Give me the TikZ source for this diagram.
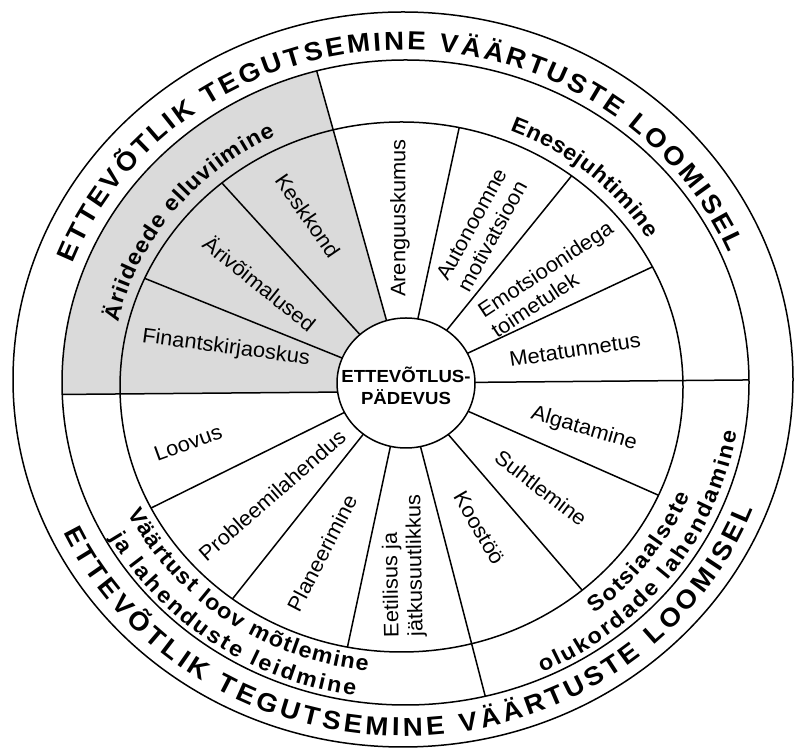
\documentclass[tikz,border=0pt]{standalone}
\usepackage{fontspec}
\setmainfont{Liberation Sans}
\newfontfamily\widebold{Liberation Sans Bold}[FakeStretch=1.062]
\newfontfamily\wideregular{Liberation Sans}[FakeStretch=1.04]
\usetikzlibrary{decorations.text,calc}
\definecolor{quadgray}{RGB}{218,218,218}
\newcommand\skillfont{\wideregular\fontsize{21}{24}\selectfont}
\newcommand\catfont{\widebold\fontsize{22}{26}\selectfont}
\newcommand\ringfont{\widebold\fontsize{26}{30}\selectfont}
\newcommand\corefont{\widebold\fontsize{17.5}{22}\selectfont}
\begin{document}
\begin{tikzpicture}[x=1pt,y=1pt,line width=1.5pt,
  skill/.style={font=\skillfont,align=left,inner sep=0pt},
  curved/.style 2 args={decorate,decoration={text along path,text align=fit to path,text={|#1|#2}}}]
\useasboundingbox (0,0) rectangle (795,749);
\coordinate (O) at (404,366);
\coordinate (c0) at (406,366);
\coordinate (c1) at (403,369.5);
\coordinate (c2) at (405.5,366.5);
\coordinate (c3) at (401.5,362);
\coordinate (T) at (403,366);
% shaded quadrant
\begin{scope}
\clip (c2) ellipse [x radius=343.5pt, y radius=322.5pt];
\fill[quadgray] (O) -- (299.6,739.2) -- (0,749) -- (0,354) -- (406,357.5) -- cycle;
\end{scope}
% sector lines
\begin{scope}
\clip (c3) ellipse [x radius=281.5pt, y radius=265pt];
\foreach \a in {130.6,156.8,78.5,52.7,26.4,-25.1,-51,207.7,233.2,258.6}
  \draw (O) -- ++({1.062*320*cos(\a)},{320*sin(\a)});
\end{scope}
% quadrant dividers
\begin{scope}
\clip (c2) ellipse [x radius=343.5pt, y radius=322.5pt];
\draw (O) -- (299.6,739.2);
\draw (406,357.5) -- (0,354);
\draw (O) -- (800,369.5);
\draw (O) -- (501,-8);
\end{scope}
% circles
\draw (c1) ellipse [x radius=390pt, y radius=367.5pt];
\draw (c2) ellipse [x radius=343.5pt, y radius=322.5pt];
\draw (c3) ellipse [x radius=281.5pt, y radius=265pt];
\draw[fill=white] (c0) ellipse [x radius=69pt, y radius=65pt];
\node[font=\corefont,align=center,inner sep=0pt] (core) at (406,363) {ETTEVÕTLUS-\\PÄDEVUS};
% skill labels
\node[skill,rotate=-55.6] (keskkond) at (308,533) {Keskkond};
\node[skill,rotate=-38.7] (arivoim) at (260,466) {Ärivõimalused};
\node[skill,rotate=-7.6] (finants) at (226,401) {Finantskirjaoskus};
\node[skill,rotate=90] (areng) at (400,531) {Arenguuskumus};
\node[skill,rotate=61.3] (auton) at (482,519) {Autonoomne\\motivatsioon};
\node[skill,rotate=33.4] (emots) at (552,470) {Emotsioonidega\\toimetulek};
\node[skill,rotate=8.4] (meta) at (575,399) {Metatunnetus};
\node[skill,rotate=-16.3] (algat) at (584,320) {Algatamine};
\node[skill,rotate=-37.4] (suhtl) at (541,261) {Suhtlemine};
\node[skill,rotate=-59.9] (koost) at (479,221) {Koostöö};
\node[skill,rotate=91] (eetil) at (404,183) {Eetilisus ja\\jätkusuutlikkus};
\node[skill,rotate=62.6] (planeer) at (322,196) {Planeerimine};
\node[skill,rotate=41.2] (probl) at (272,254) {Probleemilahendus};
\node[skill,rotate=19.9] (loovus) at (188,306) {Loovus};
% outer ring texts
\path[curved={\ringfont}{ETTEVÕTLIK TEGUTSEMINE VÄÄRTUSTE LOOMISEL}]
  ($(T)+(159:353.6pt and 333pt)$) arc[start angle=159,end angle=23,x radius=353.6pt,y radius=333pt];
\path[curved={\ringfont}{ETTEVÕTLIK TEGUTSEMINE VÄÄRTUSTE LOOMISEL}]
  ($(T)+(205.1:374.9pt and 353pt)$) arc[start angle=205.1,end angle=339.1,x radius=374.9pt,y radius=353pt];
% category texts
\path[curved={\catfont}{Äriideede elluviimine}]
  ($(T)+(167.2:292pt and 275pt)$) arc[start angle=167.2,end angle=115.9,x radius=292pt,y radius=275pt];
\path[curved={\catfont}{Enesejuhtimine}]
  ($(T)+(68.3:289pt and 272pt)$) arc[start angle=68.3,end angle=32,x radius=289pt,y radius=272pt];
\path[curved={\catfont}{Sotsiaalsete}]
  ($(T)+(-52:311pt and 293pt)$) arc[start angle=-52,end angle=-22.6,x radius=311pt,y radius=293pt];
\path[curved={\catfont}{olukordade lahendamine}]
  ($(T)+(-65.7:337.7pt and 318pt)$) arc[start angle=-65.7,end angle=-8.8,x radius=337.7pt,y radius=318pt];
\path[curved={\catfont}{Väärtust loov mõtlemine}]
  ($(T)+(206.7:308pt and 290pt)$) arc[start angle=206.7,end angle=263.4,x radius=308pt,y radius=290pt];
\path[curved={\catfont}{ja lahenduste leidmine}]
  ($(T)+(209.2:335.6pt and 316pt)$) arc[start angle=209.2,end angle=261.8,x radius=335.6pt,y radius=316pt];
\end{tikzpicture}
\end{document}
